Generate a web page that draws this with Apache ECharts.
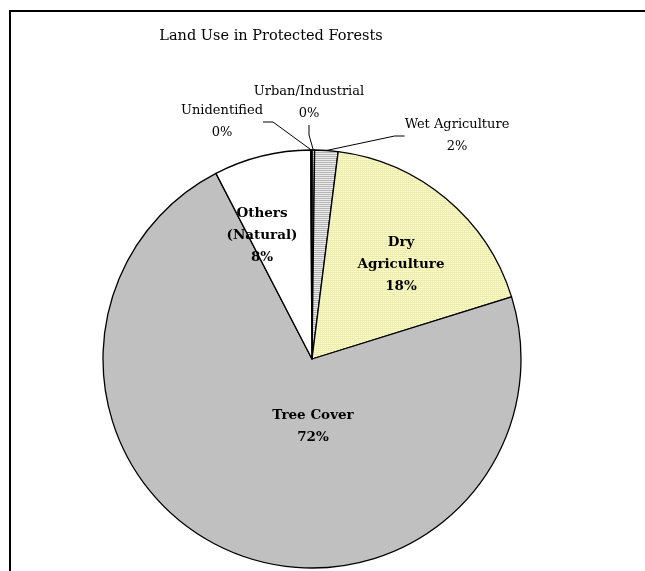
<!DOCTYPE html>
<html>
<head>
<meta charset="utf-8">
<script src="https://cdn.jsdelivr.net/npm/echarts@6/dist/echarts.min.js"></script>
<style>html,body{margin:0;padding:0;background:#fff}#c{width:645px;height:571px}</style>
</head>
<body>
<div id="c"></div>
<script>
const titleText = 'Land Use in Protected Forests';
const categories = ['Urban/Industrial', 'Wet Agriculture', 'Dry Agriculture', 'Tree Cover', 'Others (Natural)', 'Unidentified'];
const values = [0.2, 1.8, 18.2, 72.2, 7.5, 0.1];

function makePattern(w, h, draw) {
  const c = document.createElement('canvas');
  c.width = w; c.height = h;
  const ctx = c.getContext('2d');
  draw(ctx);
  return { image: c, repeat: 'repeat' };
}
const wetPat = makePattern(1, 2, ctx => {
  ctx.fillStyle = '#ececec'; ctx.fillRect(0, 0, 1, 2);
  ctx.fillStyle = '#b4b4b4'; ctx.fillRect(0, 0, 1, 1);
});
const dryPat = makePattern(2, 2, ctx => {
  ctx.fillStyle = '#ffffc8'; ctx.fillRect(0, 0, 2, 2);
  ctx.fillStyle = '#ececb0'; ctx.fillRect(0, 0, 2, 1);
  ctx.fillStyle = '#f4f4bc'; ctx.fillRect(0, 1, 1, 1);
});
const fills = [wetPat, wetPat, dryPat, '#c0c0c0', '#ffffff', '#ffffff'];
const insideNames = { 'Dry Agriculture': 'Dry\nAgriculture', 'Tree Cover': 'Tree Cover', 'Others (Natural)': 'Others\n(Natural)' };

const labelPos = {
  'Urban/Industrial': [309, 103],
  'Wet Agriculture': [457, 136],
  'Dry Agriculture': [401, 264],
  'Tree Cover': [313, 426],
  'Others (Natural)': [262, 235],
  'Unidentified': [222, 122]
};

const data = categories.map((n, i) => {
  const inside = insideNames[n] !== undefined;
  return {
    name: n,
    value: values[i],
    itemStyle: { color: fills[i] },
    label: inside ? {
      position: 'inside',
      fontFamily: 'DejaVu Serif', fontWeight: 'bold', fontSize: 13.5, color: '#000',
      lineHeight: 22
    } : {
      position: 'outside',
      fontFamily: 'DejaVu Serif', fontSize: 13, color: '#000', lineHeight: 22
    },
    labelLine: { show: !inside, length: 10, length2: 10, lineStyle: { color: '#000', width: 1 } }
  };
});

const chart = echarts.init(document.getElementById('c'));
chart.setOption({
  animation: false,
  backgroundColor: '#fff',
  graphic: [{
    type: 'rect', shape: { x: 10, y: 11, width: 800, height: 800 },
    style: { fill: 'none', stroke: '#000', lineWidth: 2 }, z: -10, silent: true
  }],
  title: {
    text: titleText, left: 266, top: 24, textAlign: 'center',
    textStyle: { fontFamily: 'DejaVu Serif', fontWeight: 'normal', fontSize: 14.5, color: '#000' }
  },
  series: [{
    type: 'pie',
    center: [312, 359],
    radius: 209,
    startAngle: 90,
    clockwise: true,
    minAngle: 0,
    avoidLabelOverlap: false,
    itemStyle: { borderColor: '#000', borderWidth: 1.3 },
    label: {
      formatter: p => (insideNames[p.name] || p.name) + '\n' + Math.round(p.percent) + '%'
    },
    labelLayout: p => {
      const pos = labelPos[categories[p.dataIndex]];
      return { x: pos[0], y: pos[1], align: 'center', verticalAlign: 'middle' };
    },
    data: data
  }]
});
</script>
</body>
</html>
